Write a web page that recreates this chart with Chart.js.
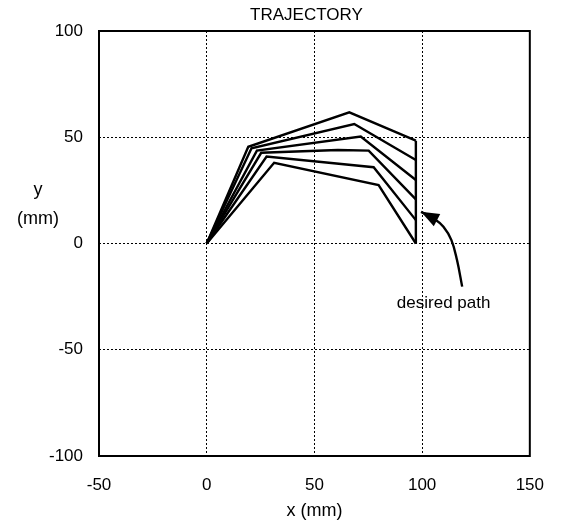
<!DOCTYPE html>
<html>
<head>
<meta charset="utf-8">
<script src="https://cdn.jsdelivr.net/npm/chart.js@4.4.1/dist/chart.umd.min.js"></script>
<style>
  html, body { margin: 0; padding: 0; background: #fff; }
  #wrap { width: 563px; height: 532px; position: relative; }
</style>
</head>
<body>
<div id="wrap"><canvas id="trajChart"></canvas></div>
<script>
// Trajectory curves (x, y in mm)
const path1X = [0, 19.3, 66.2, 97.1];
const path1Y = [0, 45.5, 61.7, 48.4];
const path2X = [0, 20.8, 68.5, 97.1];
const path2Y = [0, 44.8, 56.2, 39.3];
const path3X = [0, 23.3, 71.5, 97.1];
const path3Y = [0, 43.7, 50.3, 29.9];
const path4X = [0, 25.3, 60.9, 75.2, 97.1];
const path4Y = [0, 42.7, 44.0, 43.7, 20.8];
const path5X = [0, 27.8, 77.5, 97.1];
const path5Y = [0, 40.9, 35.9, 11.0];
const path6X = [0, 31.3, 79.8, 97.1];
const path6Y = [0, 38.0, 27.5, 0];

// desired path (vertical segment)
const desiredX = [97.1, 97.1];
const desiredY = [0, 48.4];

// annotation arrow: curve points, then the tip
const arrowX = [118.6, 116.2, 113.6, 109.9, 105.4];
const arrowY = [-20.3, -7.8, 1.6, 7.9, 11.8];
const arrowTip = { x: 99.5, y: 14.9 };
const noteText = 'desired path';
const notePos = { x: 110, y: -28 };

const xTicks = [-50, 0, 50, 100, 150];
const yTicks = [-100, -50, 0, 50, 100];

const FONT = '"Liberation Sans", Arial, sans-serif';

function pts(xs, ys) { return xs.map((x, i) => ({ x: x, y: ys[i] })); }
function lineDs(xs, ys, tension) {
  return {
    data: pts(xs, ys),
    showLine: true,
    borderColor: '#000',
    borderWidth: 2.4,
    pointRadius: 0,
    tension: tension || 0,
    fill: false,
  };
}

const paths = [
  [path1X, path1Y], [path2X, path2Y], [path3X, path3Y],
  [path4X, path4Y], [path5X, path5Y], [path6X, path6Y],
];

const datasets = paths.map(p => lineDs(p[0], p[1]));
datasets.push(lineDs(desiredX, desiredY));
datasets.push(lineDs(arrowX.concat([arrowTip.x]), arrowY.concat([arrowTip.y]), 0.4));

// frame, titles, arrowhead and note text
const decor = {
  id: 'decor',
  afterDraw(chart) {
    const { ctx, chartArea: a, scales: { x, y } } = chart;
    ctx.save();
    // frame
    ctx.strokeStyle = '#000';
    ctx.lineWidth = 2;
    ctx.strokeRect(a.left, a.top, a.right - a.left, a.bottom - a.top);

    // arrowhead
    const n = arrowX.length - 1;
    const bx = x.getPixelForValue(arrowX[n]), by = y.getPixelForValue(arrowY[n]);
    const tx = x.getPixelForValue(arrowTip.x), ty = y.getPixelForValue(arrowTip.y);
    const ang = Math.atan2(ty - by, tx - bx);
    const len = 18, half = 7;
    const hx = tx - len * Math.cos(ang), hy = ty - len * Math.sin(ang);
    ctx.fillStyle = '#000';
    ctx.beginPath();
    ctx.moveTo(tx, ty);
    ctx.lineTo(hx + half * Math.sin(ang), hy - half * Math.cos(ang));
    ctx.lineTo(hx - half * Math.sin(ang), hy + half * Math.cos(ang));
    ctx.closePath();
    ctx.fill();

    // note
    ctx.font = '17px ' + FONT;
    ctx.textAlign = 'center';
    ctx.textBaseline = 'middle';
    ctx.fillText(noteText, x.getPixelForValue(notePos.x), y.getPixelForValue(notePos.y));

    // title
    ctx.font = '17px ' + FONT;
    ctx.fillText('TRAJECTORY', (a.left + a.right) / 2 - 8, a.top - 16);

    // axis titles
    ctx.font = '18px ' + FONT;
    ctx.fillText('x (mm)', (a.left + a.right) / 2, chart.height - 21);
    ctx.fillText('y', 38, 190);
    ctx.fillText('(mm)', 38, 219);
    ctx.restore();
  },
};

new Chart(document.getElementById('trajChart'), {
  type: 'scatter',
  data: { datasets },
  options: {
    responsive: true,
    maintainAspectRatio: false,
    animation: false,
    layout: { padding: { top: 31, right: 21, left: 0, bottom: 0 } },
    plugins: { legend: { display: false }, tooltip: { enabled: false } },
    scales: {
      x: {
        type: 'linear', min: -50, max: 150,
        afterBuildTicks: s => { s.ticks = xTicks.map(v => ({ value: v })); },
        afterFit: s => { s.height = 76; },
        ticks: { color: '#000', padding: 19, font: { size: 17, family: FONT } },
        grid: { color: '#000', lineWidth: 1, drawTicks: false },
        border: { display: false, dash: [2, 2] },
      },
      y: {
        type: 'linear', min: -100, max: 100,
        afterBuildTicks: s => { s.ticks = yTicks.map(v => ({ value: v })); },
        afterFit: s => { s.width = 99; },
        ticks: { color: '#000', padding: 16, font: { size: 17, family: FONT } },
        grid: { color: '#000', lineWidth: 1, drawTicks: false },
        border: { display: false, dash: [2, 2] },
      },
    },
  },
  plugins: [decor],
});
</script>
</body>
</html>
